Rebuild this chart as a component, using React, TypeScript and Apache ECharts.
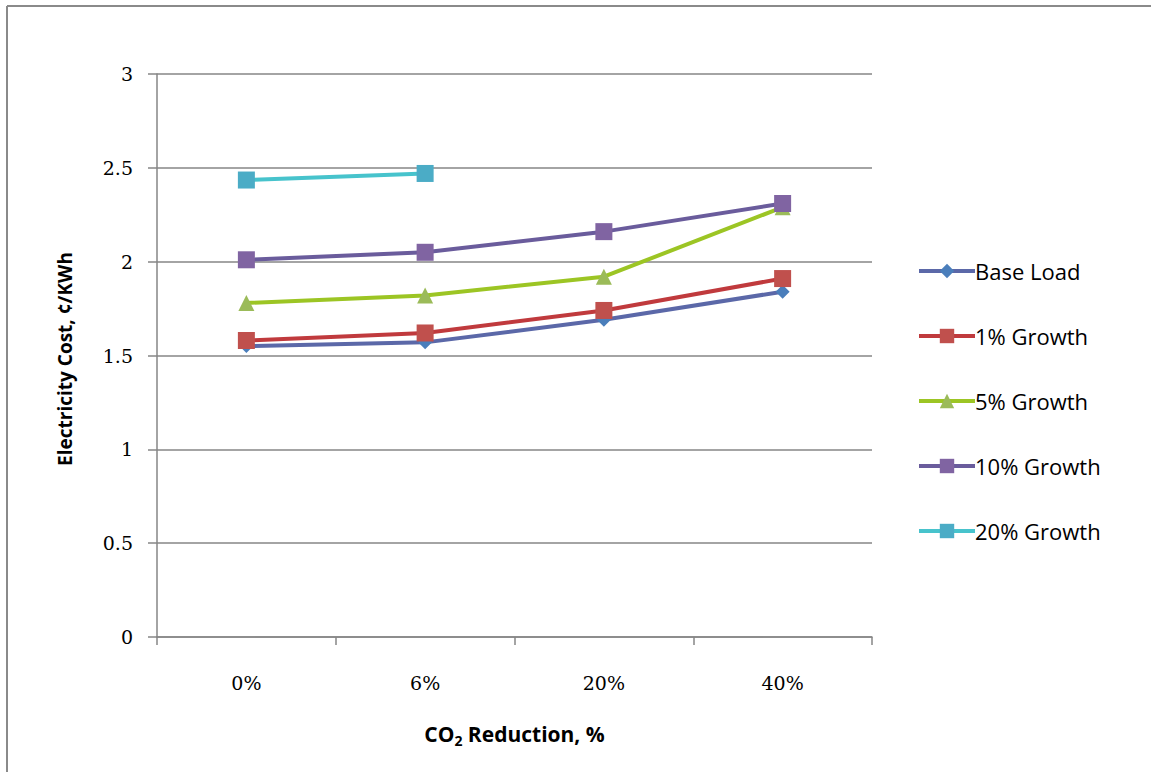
import React, { useEffect, useRef } from "react";
import * as echarts from "echarts";

const categories = ["0%", "6%", "20%", "40%"];
const seriesNames = ["Base Load", "1% Growth", "5% Growth", "10% Growth", "20% Growth"];
const baseLoad = [1.55, 1.57, 1.69, 1.84];
const growth1 = [1.58, 1.62, 1.74, 1.91];
const growth5 = [1.78, 1.82, 1.92, 2.29];
const growth10 = [2.01, 2.05, 2.16, 2.31];
const growth20 = [2.435, 2.47, null, null];

const lineColors = ["#5B68A8", "#C03A3D", "#9CC524", "#6A5C9C", "#47C3CC"];
const markerColors = ["#4A7EBB", "#C0504D", "#9BBB59", "#8064A2", "#4BACC6"];
const symbols = ["diamond", "rect", "triangle", "rect", "rect"];
const symbolSizes = [14, 17, 16, 17, 17];

export default function App() {
  const ref = useRef<HTMLDivElement>(null);

  useEffect(() => {
    document.body.style.margin = "0";
    const chart = echarts.init(ref.current!, undefined, { renderer: "svg" });
    const values = [baseLoad, growth1, growth5, growth10, growth20];
    const tickFont = "'DejaVu Serif', 'Liberation Serif', serif";
    const sansFont = "'Open Sans', 'Noto Sans', sans-serif";

    chart.setOption({
      animation: false,
      backgroundColor: "#ffffff",
      grid: { left: 157, right: 279, top: 74, bottom: 135 },
      graphic: [
        {
          type: "line",
          shape: { x1: 7, y1: 6, x2: 1151, y2: 6 },
          style: { stroke: "#8a8a8a", lineWidth: 2 },
        },
        {
          type: "line",
          shape: { x1: 7, y1: 6, x2: 7, y2: 772 },
          style: { stroke: "#8a8a8a", lineWidth: 2 },
        },
        {
          type: "text",
          x: 65,
          y: 359,
          rotation: Math.PI / 2,
          style: {
            text: "Electricity Cost, ¢/KWh",
            fontFamily: sansFont,
            fontSize: 19,
            fontWeight: "bold",
            fill: "#000",
            textAlign: "center",
            textVerticalAlign: "middle",
          },
        },
      ],
      legend: {
        orient: "vertical",
        left: 912,
        top: 254,
        itemWidth: 56,
        itemHeight: 18,
        itemGap: 41,
        data: seriesNames,
        lineStyle: { width: 4 },
        textStyle: {
          fontFamily: sansFont,
          fontSize: 22,
          color: "#000",
          padding: [0, 0, 0, -5],
          lineHeight: 24,
        },
      },
      xAxis: {
        type: "category",
        data: categories,
        boundaryGap: true,
        name: "{a|CO}{s|2}{a| Reduction, %}",
        nameLocation: "middle",
        nameGap: 84,
        nameTextStyle: {
          rich: {
            a: { fontFamily: sansFont, fontSize: 21, fontWeight: "bold", color: "#000" },
            s: {
              fontFamily: sansFont,
              fontSize: 14,
              fontWeight: "bold",
              color: "#000",
              verticalAlign: "bottom",
              padding: [12, 0, 0, 0],
            },
          },
        },
        axisLine: { show: true, lineStyle: { color: "#868686", width: 1.5 } },
        axisTick: { show: true, length: 8, lineStyle: { color: "#868686", width: 1.5 } },
        axisLabel: {
          margin: 36,
          fontFamily: tickFont,
          fontSize: 19,
          color: "#000",
        },
      },
      yAxis: {
        type: "value",
        min: 0,
        max: 3,
        interval: 0.5,
        axisLine: { show: true, lineStyle: { color: "#868686", width: 1.5 } },
        axisTick: { show: true, length: 9, lineStyle: { color: "#868686", width: 1.5 } },
        axisLabel: {
          margin: 24,
          fontFamily: tickFont,
          fontSize: 19,
          color: "#000",
        },
        splitLine: { show: true, lineStyle: { color: "#868686", width: 1.5 } },
      },
      series: seriesNames.map((name, i) => ({
        name,
        type: "line",
        data: values[i],
        symbol: symbols[i],
        symbolSize: symbolSizes[i],
        showSymbol: true,
        connectNulls: false,
        lineStyle: { color: lineColors[i], width: 4 },
        itemStyle: { color: markerColors[i] },
        emphasis: { disabled: true },
      })),
    });

    return () => chart.dispose();
  }, []);

  return <div ref={ref} style={{ width: 1151, height: 772 }} />;
}
